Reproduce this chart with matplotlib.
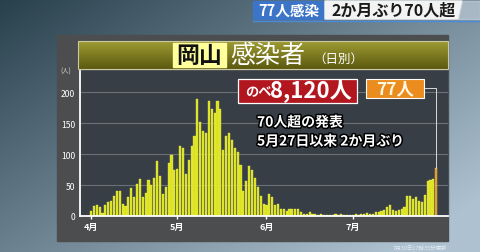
import numpy as np
import pandas as pd
import matplotlib.pyplot as plt
from matplotlib.patches import Rectangle, Polygon
import matplotlib.patheffects as pe

plt.rcParams['font.family'] = ['Noto Sans CJK JP', 'DejaVu Sans']

# daily new cases, Okayama, 2021-04-01 .. 2021-07-30
dates = pd.date_range('2021-04-01', '2021-07-30')
cases_apr = [8, 16, 18, 14, 5, 17, 22, 24, 32, 41, 41, 20, 16, 31, 45,
             31, 51, 60, 30, 37, 58, 50, 61, 88, 64, 36, 46, 86, 98, 75]
cases_may = [76, 113, 109, 68, 90, 113, 129, 189, 151, 137, 134, 186, 172, 167, 186,
             172, 107, 129, 134, 123, 109, 103, 82, 40, 57, 81, 74, 62, 47, 33, 19]
cases_jun = [18, 36, 31, 18, 19, 11, 11, 8, 12, 12, 12, 11, 6, 3, 4,
             7, 4, 3, 2, 3, 1, 2, 2, 1, 3, 2, 4, 1, 2, 1]
cases_jul = [2, 4, 2, 3, 3, 5, 4, 4, 6, 7, 8, 9, 14, 18, 10,
             8, 9, 12, 14, 33, 32, 28, 31, 25, 23, 34, 57, 58, 60, 77]
cases = cases_apr + cases_may + cases_jun + cases_jul
y_ticks = [0, 50, 100, 150, 200]

W, H = 480, 253
fig = plt.figure(figsize=(W / 100, H / 100), dpi=100)


def rect(x0, y0, x1, y1):
    return [x0 / W, 1 - y1 / H, (x1 - x0) / W, (y1 - y0) / H]


# background (pixel coordinates, origin top-left)
bg = fig.add_axes([0, 0, 1, 1])
bg.axis('off')
gx, gy = np.meshgrid(np.linspace(0, 1, 240), np.linspace(0, 1, 120))
t = np.clip(0.6 * gx + 0.5 * gy, 0, 1)
c0 = np.array([0.16, 0.25, 0.30])
c1 = np.array([0.68, 0.76, 0.82])
bg.imshow(c0 + (c1 - c0) * t[..., None], extent=[0, W, H, 0], aspect='auto')
bg.set_xlim(0, W)
bg.set_ylim(H, 0)

# chart panel
bg.add_patch(Rectangle((57, 36), 391, 206, color='#4c4d4f'))

# title banner with olive gradient
grad = np.linspace(0, 1, 50)[:, None, None]
top, bot = np.array([0.62, 0.61, 0.20]), np.array([0.36, 0.35, 0.06])
bg.imshow(top + (bot - top) * grad * np.ones((1, 10, 1)),
          extent=[78, 448, 70, 42], aspect='auto', zorder=1)
bg.add_patch(Rectangle((78, 42), 370, 28, fill=False, ec='#c9c9a4', lw=0.8, zorder=2))
bg.add_patch(Rectangle((173, 44), 53, 24, color='#ffff9c', zorder=2))
bg.text(199.5, 56, '岡山', ha='center', va='center', fontsize=16.5,
        fontweight='bold', color='#111111', zorder=3)
bg.text(230, 56, '感染者', ha='left', va='center', fontsize=18, color='white', zorder=3)
bg.text(313, 59, '（日別）', ha='left', va='center', fontsize=9, color='white', zorder=3)
bg.text(66, 72, '(人)', ha='center', va='center', fontsize=4.5, color='#dddddd')

# header strip top right
bg.add_patch(Rectangle((253, 2), 72, 18, color='#3c74c8'))
bg.text(289, 11, '77人感染', ha='center', va='center', fontsize=10.5,
        fontweight='bold', color='white')
bg.add_patch(Polygon([(325, 2), (462, 2), (458, 20), (325, 20)], color='#f3f3f3'))
bg.add_patch(Polygon([(462, 2), (480, 2), (480, 20), (458, 20)], color='#c8d4de', alpha=0.6))
bg.plot([253, 480], [22, 22], color='#4b8ad6', lw=1)
bg.text(331, 11, '2か月ぶり70人超', ha='left', va='center', fontsize=11.5,
        fontweight='bold', color='#1a1a1a')
bg.text(447, 248, '7月30日17時35分更新', ha='right', va='center', fontsize=4,
        color='#e6edf3')

# main chart
ax = fig.add_axes(rect(80, 72, 448, 217))
ax.set_facecolor('#383e45')
x = np.arange(len(cases))
colors = ['#dbe11a'] * (len(cases) - 1) + ['#ec8a1c']
ax.bar(x, cases, width=0.74, color=colors, edgecolor='#f2f56a', linewidth=0.25)
ax.set_xlim(-3.8, 124.1)
ax.set_ylim(0, 234)
ax.set_yticks(y_ticks)
ax.grid(axis='y', color='#6b7075', lw=0.8)
ax.set_axisbelow(True)
for s in ['top', 'right']:
    ax.spines[s].set_visible(False)
for s in ['left', 'bottom']:
    ax.spines[s].set_color('white')
    ax.spines[s].set_linewidth(1.3)
month_idx = [i for i, d in enumerate(dates) if d.day == 1]
ax.set_xticks(month_idx)
ax.set_xticklabels([f'{dates[i].month}月' for i in month_idx], fontweight='bold')
ax.tick_params(axis='x', colors='white', length=2.5, width=1, labelsize=6.5, pad=1.5)
ax.tick_params(axis='y', length=0, labelsize=6.2, labelcolor='white', pad=3.5)

# connector from the "77人" box to the last bar
ax.annotate('', xy=(x[-1], cases[-1]), xycoords='data',
            xytext=(424, H - 89), textcoords='figure pixels',
            arrowprops=dict(arrowstyle='-', color='#d8d8d8', lw=0.7,
                            shrinkA=0, shrinkB=0,
                            connectionstyle='angle,angleA=0,angleB=90,rad=0'),
            annotation_clip=False)

# overlay for call-outs
ov = fig.add_axes([0, 0, 1, 1])
ov.axis('off')
ov.set_xlim(0, W)
ov.set_ylim(H, 0)
ov.patch.set_alpha(0)
ov.add_patch(Rectangle((238, 80), 119, 24, fc='#b2161f', ec='white', lw=0.9))
ov.text(245, 92.5, 'のべ', ha='left', va='center', fontsize=9.5,
        fontweight='bold', color='white')
ov.text(270, 91.5, '8,120人', ha='left', va='center', fontsize=16,
        fontweight='bold', color='white')
ov.add_patch(Rectangle((366, 80), 58, 19, fc='#ea8c1e', ec='white', lw=0.8))
ov.text(395, 89.5, '77人', ha='center', va='center', fontsize=12.5,
        fontweight='bold', color='#fff6e0')
stroke = [pe.withStroke(linewidth=2.2, foreground='black')]
ov.text(257, 123.5, '70人超の発表', ha='left', va='center', fontsize=10,
        fontweight='bold', color='white', path_effects=stroke)
ov.text(257, 142.5, '5月27日以来 2か月ぶり', ha='left', va='center', fontsize=10,
        fontweight='bold', color='white', path_effects=stroke)

fig.savefig('out.png', dpi=100)
